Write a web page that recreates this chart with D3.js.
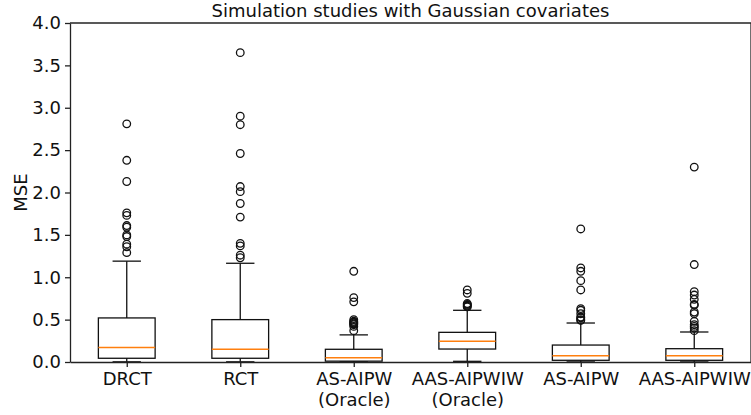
<!doctype html>
<html>
<meta charset="utf-8">
<style>
  body { margin: 0; background: #fff; }
  text { font-family: "DejaVu Sans", sans-serif; fill: #111; }
  .axis path, .axis line { stroke: #222; stroke-width: 1.3; }
</style>
<head>
  <script src="https://cdn.jsdelivr.net/npm/d3@7"></script>
</head>
<body>
<script>
  // box plot summaries
  var categories = ["DRCT", "RCT", "AS-AIPW\n(Oracle)", "AAS-AIPWIW\n(Oracle)", "AS-AIPW", "AAS-AIPWIW"];
  var q1 = [0.044, 0.044, 0.010, 0.153, 0.020, 0.020];
  var median = [0.170, 0.150, 0.050, 0.244, 0.075, 0.075];
  var q3 = [0.520, 0.500, 0.150, 0.350, 0.200, 0.157];
  var whiskerLow = [0.002, 0.002, 0.001, 0.008, 0.001, 0.001];
  var whiskerHigh = [1.19, 1.165, 0.32, 0.61, 0.46, 0.354];
  var outliers = [
    [2.81, 2.38, 2.13, 1.76, 1.73, 1.61, 1.59, 1.50, 1.48, 1.39, 1.36, 1.29],
    [3.65, 2.90, 2.80, 2.46, 2.07, 2.01, 1.87, 1.71, 1.40, 1.37, 1.26, 1.23],
    [1.07, 0.76, 0.71, 0.50, 0.48, 0.47, 0.46, 0.45, 0.44, 0.42, 0.37],
    [0.85, 0.81, 0.69, 0.68, 0.67, 0.66, 0.65],
    [1.57, 1.11, 1.07, 0.96, 0.85, 0.63, 0.61, 0.57, 0.53, 0.52, 0.50, 0.49],
    [2.30, 1.15, 0.83, 0.79, 0.74, 0.68, 0.67, 0.59, 0.57, 0.48, 0.44, 0.42, 0.40, 0.37]
  ];
  var yTicks = [0, 0.5, 1, 1.5, 2, 2.5, 3, 3.5, 4];

  var width = 751, height = 415;
  var mLeft = 70, mRight = 751, mTop = 23, mBottom = 362;

  var svg = d3.select("body").append("svg")
    .attr("width", width)
    .attr("height", height);

  var x = d3.scaleLinear().domain([0.5, 6.5]).range([mLeft, mRight]);
  var y = d3.scaleLinear().domain([0, 4]).range([mBottom, mTop]);

  var boxW = 0.5, capW = 0.25, lw = 1.3;

  var data = categories.map(function(c, i) {
    return {name: c, pos: i + 1, q1: q1[i], med: median[i], q3: q3[i],
            lo: whiskerLow[i], hi: whiskerHigh[i], fl: outliers[i]};
  });

  var g = svg.selectAll("g.box")
    .data(data)
    .enter().append("g")
    .attr("class", "box");

  // whiskers
  g.append("line")
    .attr("x1", function(d) { return x(d.pos); })
    .attr("x2", function(d) { return x(d.pos); })
    .attr("y1", function(d) { return y(d.q3); })
    .attr("y2", function(d) { return y(d.hi); })
    .style("stroke", "#111").style("stroke-width", lw);
  g.append("line")
    .attr("x1", function(d) { return x(d.pos); })
    .attr("x2", function(d) { return x(d.pos); })
    .attr("y1", function(d) { return y(d.q1); })
    .attr("y2", function(d) { return y(d.lo); })
    .style("stroke", "#111").style("stroke-width", lw);
  // caps
  ["hi", "lo"].forEach(function(k) {
    g.append("line")
      .attr("x1", function(d) { return x(d.pos - capW / 2); })
      .attr("x2", function(d) { return x(d.pos + capW / 2); })
      .attr("y1", function(d) { return y(d[k]); })
      .attr("y2", function(d) { return y(d[k]); })
      .style("stroke", "#111").style("stroke-width", lw);
  });
  // boxes
  g.append("rect")
    .attr("x", function(d) { return x(d.pos - boxW / 2); })
    .attr("width", function(d) { return x(d.pos + boxW / 2) - x(d.pos - boxW / 2); })
    .attr("y", function(d) { return y(d.q3); })
    .attr("height", function(d) { return y(d.q1) - y(d.q3); })
    .style("fill", "none")
    .style("stroke", "#111").style("stroke-width", lw);
  // medians
  g.append("line")
    .attr("x1", function(d) { return x(d.pos - boxW / 2); })
    .attr("x2", function(d) { return x(d.pos + boxW / 2); })
    .attr("y1", function(d) { return y(d.med); })
    .attr("y2", function(d) { return y(d.med); })
    .style("stroke", "#ff7f0e").style("stroke-width", 1.5);
  // fliers
  g.selectAll("circle")
    .data(function(d) { return d.fl.map(function(v) { return {pos: d.pos, v: v}; }); })
    .enter().append("circle")
    .attr("cx", function(d) { return x(d.pos); })
    .attr("cy", function(d) { return y(d.v); })
    .attr("r", 3.8)
    .style("fill", "none")
    .style("stroke", "#111").style("stroke-width", lw);

  // axes
  var yAxis = svg.append("g")
    .attr("class", "axis")
    .attr("transform", "translate(" + mLeft + ",0)")
    .call(d3.axisLeft(y).tickValues(yTicks).tickFormat(d3.format(".1f")).tickSize(5).tickPadding(4).tickSizeOuter(0));
  yAxis.selectAll("text").style("font-size", "18px").style("fill", "#111");

  var xAxis = svg.append("g")
    .attr("class", "axis")
    .attr("transform", "translate(0," + mBottom + ")")
    .call(d3.axisBottom(x).tickValues(d3.range(1, 7)).tickFormat("").tickSize(5).tickSizeOuter(0));

  xAxis.selectAll(".tick").each(function(d, i) {
    var lines = categories[i].split("\n");
    var t = d3.select(this).append("text")
      .attr("text-anchor", "middle")
      .style("font-size", "18px")
      .style("fill", "#111");
    lines.forEach(function(s, j) {
      t.append("tspan").attr("x", 0).attr("y", 23 + j * 21).text(s);
    });
  });

  // frame
  svg.append("line").attr("x1", mLeft).attr("x2", mRight).attr("y1", mTop).attr("y2", mTop)
    .style("stroke", "#222").style("stroke-width", 1.3);
  svg.append("line").attr("x1", mRight).attr("x2", mRight).attr("y1", mTop).attr("y2", mBottom)
    .style("stroke", "#222").style("stroke-width", 1.3);

  svg.append("text")
    .attr("x", (mLeft + mRight) / 2)
    .attr("y", 17)
    .attr("text-anchor", "middle")
    .style("font-size", "18px")
    .text("Simulation studies with Gaussian covariates");

  svg.append("text")
    .attr("transform", "translate(27," + (mTop + mBottom) / 2 + ") rotate(-90)")
    .attr("text-anchor", "middle")
    .style("font-size", "18px")
    .text("MSE");
</script>
</body>
</html>
